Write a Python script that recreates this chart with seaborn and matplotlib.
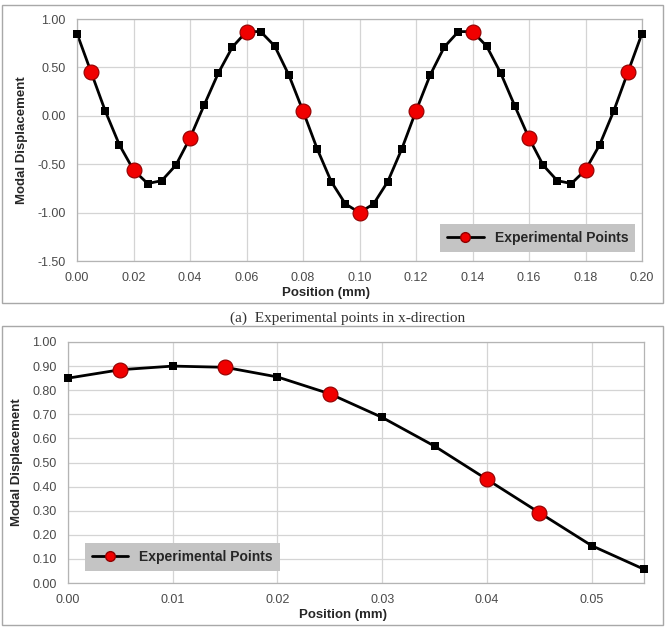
import matplotlib
matplotlib.use("Agg")
import matplotlib.pyplot as plt
import seaborn as sns
import pandas as pd
from matplotlib.lines import Line2D
from matplotlib.patches import Rectangle
from matplotlib.ticker import FormatStrFormatter

sns.set_style("white")
plt.rcParams["font.family"] = ["Liberation Sans", "DejaVu Sans"]

# (a) mode shape along x
pos_a = [0.000, 0.005, 0.010, 0.015, 0.020, 0.025, 0.030, 0.035, 0.040, 0.045,
         0.050, 0.055, 0.060, 0.065, 0.070, 0.075, 0.080, 0.085, 0.090, 0.095,
         0.100, 0.105, 0.110, 0.115, 0.120, 0.125, 0.130, 0.135, 0.140, 0.145,
         0.150, 0.155, 0.160, 0.165, 0.170, 0.175, 0.180, 0.185, 0.190, 0.195,
         0.200]
disp_a = [0.85, 0.45, 0.05, -0.30, -0.56, -0.70, -0.67, -0.51, -0.23, 0.11,
          0.44, 0.71, 0.87, 0.87, 0.72, 0.42, 0.05, -0.34, -0.68, -0.91,
          -1.00, -0.91, -0.68, -0.34, 0.05, 0.42, 0.71, 0.87, 0.87, 0.72,
          0.44, 0.10, -0.23, -0.51, -0.67, -0.70, -0.56, -0.30, 0.05, 0.45,
          0.85]
exp_pos_a = [0.005, 0.020, 0.040, 0.060, 0.080, 0.100, 0.120, 0.140, 0.160, 0.180, 0.195]

# (b) close-up of first part
pos_b = [0.000, 0.005, 0.010, 0.015, 0.020, 0.025, 0.030, 0.035, 0.040, 0.045, 0.050, 0.055]
disp_b = [0.85, 0.885, 0.90, 0.895, 0.855, 0.785, 0.687, 0.568, 0.43, 0.292, 0.155, 0.057]
exp_pos_b = [0.005, 0.015, 0.025, 0.040, 0.045]

LEGEND_LABEL = "Experimental Points"
CAPTION = "(a)  Experimental points in x-direction"

W, H = 670, 629
fig = plt.figure(figsize=(W / 100, H / 100), dpi=100)


def box(x0, y0, x1, y1):
    fig.add_artist(Rectangle((x0 / W, 1 - y1 / H), (x1 - x0) / W, (y1 - y0) / H,
                             transform=fig.transFigure, fill=False,
                             edgecolor="#a8a8a8", lw=1.0))


def axes_px(x0, y0, x1, y1):
    return fig.add_axes([x0 / W, 1 - y1 / H, (x1 - x0) / W, (y1 - y0) / H])


def draw(ax, pos, disp, exp_pos):
    exp_set = {round(p, 3) for p in exp_pos}
    df = pd.DataFrame({"pos": pos, "disp": disp})
    df["kind"] = ["exp" if round(p, 3) in exp_set else "model" for p in pos]
    sns.lineplot(data=df, x="pos", y="disp", color="black", lw=2.0,
                 estimator=None, sort=False, ax=ax, zorder=2, clip_on=False)
    sns.scatterplot(data=df[df.kind == "model"], x="pos", y="disp", marker="s",
                    s=36, color="black", edgecolor="black", linewidth=0,
                    ax=ax, zorder=3, clip_on=False)
    sns.scatterplot(data=df[df.kind == "exp"], x="pos", y="disp", marker="o",
                    s=115, color="#f00000", edgecolor="#900000", linewidth=0.8,
                    ax=ax, zorder=4, clip_on=False)


def style(ax, xlim, ylim, xstep, ystep, xlabel_x):
    ax.set_xlim(*xlim)
    ax.set_ylim(*ylim)
    ax.xaxis.set_major_locator(plt.MultipleLocator(xstep))
    ax.yaxis.set_major_locator(plt.MultipleLocator(ystep))
    ax.xaxis.set_major_formatter(FormatStrFormatter("%.2f"))
    ax.yaxis.set_major_formatter(FormatStrFormatter("%.2f"))
    ax.grid(True, color="#d4d4d4", lw=0.9)
    ax.set_axisbelow(True)
    for sp in ax.spines.values():
        sp.set_color("#b4b4b4")
        sp.set_linewidth(0.9)
    ax.tick_params(length=0, pad=8, labelsize=9, labelcolor="#4a4a4a")
    ax.set_xlabel("Position (mm)", fontsize=9.5, fontweight="bold", labelpad=2,
                  x=xlabel_x)
    ax.set_ylabel("Modal Displacement", fontsize=9.5, fontweight="bold", labelpad=7)


def legend(ax, loc, anchor):
    handle = Line2D([0], [0], color="black", lw=2, marker="o", markersize=7,
                    markerfacecolor="#f00000", markeredgecolor="#900000")
    ax.legend([handle], [LEGEND_LABEL], loc=loc, bbox_to_anchor=anchor,
              frameon=True, facecolor="#c4c4c4", edgecolor="none", framealpha=1,
              fancybox=False, prop={"weight": "bold", "size": 10},
              handlelength=2.6, borderpad=0.5, borderaxespad=0)


# top panel
box(2, 5, 663, 303)
ax1 = axes_px(77, 19, 642, 261)
draw(ax1, pos_a, disp_a, exp_pos_a)
style(ax1, (0, 0.2), (-1.5, 1.0), 0.02, 0.5, 0.44)
legend(ax1, "lower right", (0.988, 0.037))

fig.text(348 / W, 1 - 318 / H, CAPTION, ha="center", va="center",
         family=["Liberation Serif", "DejaVu Serif"], fontsize=11, color="#333333")

# bottom panel
box(2, 326, 663, 625)
ax2 = axes_px(68, 342, 644, 583)
draw(ax2, pos_b, disp_b, exp_pos_b)
style(ax2, (0, 0.055), (0, 1.0), 0.01, 0.1, 0.477)
legend(ax2, "lower left", (0.03, 0.05))

fig.savefig("out.png", dpi=100)
